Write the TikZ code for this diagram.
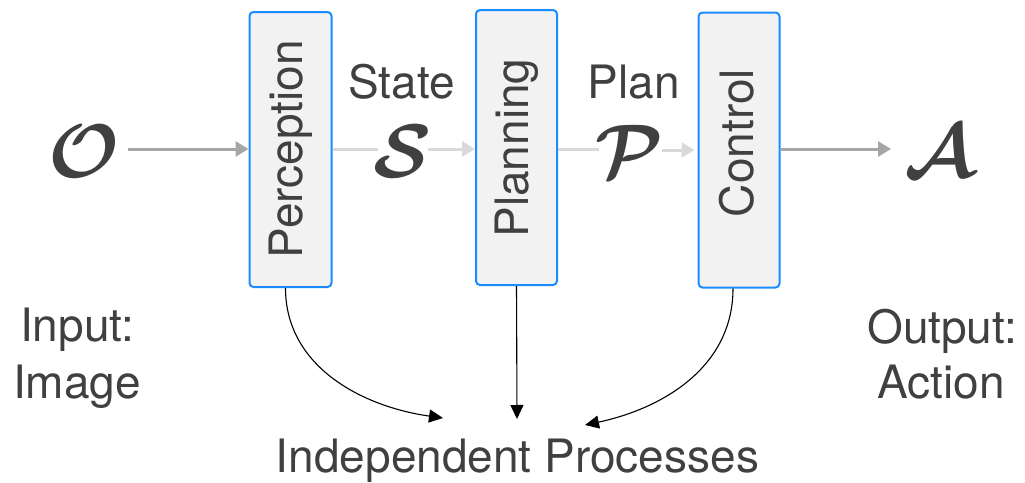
\RequirePackage{fix-cm}
\documentclass[tikz,border=0pt]{standalone}
\usepackage{fontspec}
\setmainfont{TeX Gyre Heros}
\usetikzlibrary{arrows.meta}
\definecolor{txt}{HTML}{404040}
\definecolor{boxblue}{HTML}{1A8CFF}
\definecolor{boxfill}{HTML}{F2F2F2}
\definecolor{darkgray}{HTML}{A6A6A6}
\definecolor{lightgray}{HTML}{D9D9D9}
\begin{document}
\begin{tikzpicture}[x=1pt,y=-1pt,
  stagebox/.style={draw=boxblue, fill=boxfill, line width=2pt, rounded corners=4pt,
    minimum width=82pt, minimum height=275pt, inner sep=0pt},
  lbl/.style={text=txt, inner sep=0pt, font=\fontsize{46}{55}\selectfont},
  sym/.style={text=txt, inner sep=0pt, font=\fontsize{76}{78}\selectfont\boldmath},
  strongarrow/.style={draw=darkgray, line width=3pt, -{Triangle[length=13pt,width=15pt]}},
  weakline/.style={draw=lightgray, line width=3pt},
  weakarrow/.style={draw=lightgray, line width=3pt, -{Triangle[length=13pt,width=15pt]}},
  procarrow/.style={draw=black, line width=1.1pt, -{Triangle[length=14pt,width=13pt]}}
]
\useasboundingbox (0,0) rectangle (1025,482);

% stage boxes
\node[stagebox] (perc) at (290.5,149.5) {};
\node[stagebox, minimum width=81pt] (plan) at (516.5,147.5) {};
\node[stagebox, minimum width=81pt] (ctrl) at (739,150) {};

\node[lbl, rotate=90] (perclbl) at (290.5,149) {Perception};
\node[lbl, rotate=90] (planlbl) at (516.5,148) {Planning};
\node[lbl, rotate=90] (ctrllbl) at (737,143) {Control};

% symbols
\node[sym] (O) at (84,151) {$\mathcal{O}$};
\node[sym] (S) at (403,151) {$\mathcal{S}$};
\node[sym] (P) at (629,151) {$\mathcal{P}$};
\node[sym] (A) at (939,151) {$\mathcal{A}$};

% labels
\node[lbl, anchor=base] (state) at (401.5,98) {State};
\node[lbl, anchor=base] (planword) at (634,98) {Plan};
\node[lbl, anchor=base] (in1) at (77,341) {Input:};
\node[lbl, anchor=base] (in2) at (77,398) {Image};
\node[lbl, anchor=base] (out1) at (942,343) {Output:};
\node[lbl, anchor=base] (out2) at (941,398) {Action};
\node[lbl, anchor=base] (ip) at (517.5,472) {Independent Processes};

% main flow
\coordinate (o1) at (128,149);
\coordinate (s1) at (378,149);
\coordinate (s2) at (428,149);
\coordinate (p1) at (599,149);
\coordinate (p2) at (662,150);
\coordinate (a1) at (891,149);
\draw[strongarrow] (o1) -- (perc.west |- o1);
\draw[weakline] (perc.east |- s1) -- (s1);
\draw[weakarrow] (s2) -- (plan.west |- s2);
\draw[weakline] (plan.east |- p1) -- (p1);
\draw[weakarrow] (p2) -- ([xshift=-3pt]ctrl.west |- p2);
\draw[strongarrow] (ctrl.east |- a1) -- (a1);

% independent processes
\coordinate (e1) at (443,418);
\coordinate (e2) at (517,419);
\coordinate (e3) at (585,425);
\draw[procarrow] ([xshift=-5pt]perc.south) to[out=-90, in=172] (e1);
\draw[procarrow] (plan.south) -- (e2);
\draw[procarrow] ([xshift=-6pt]ctrl.south) to[out=-90, in=12] (e3);
\end{tikzpicture}
\end{document}
